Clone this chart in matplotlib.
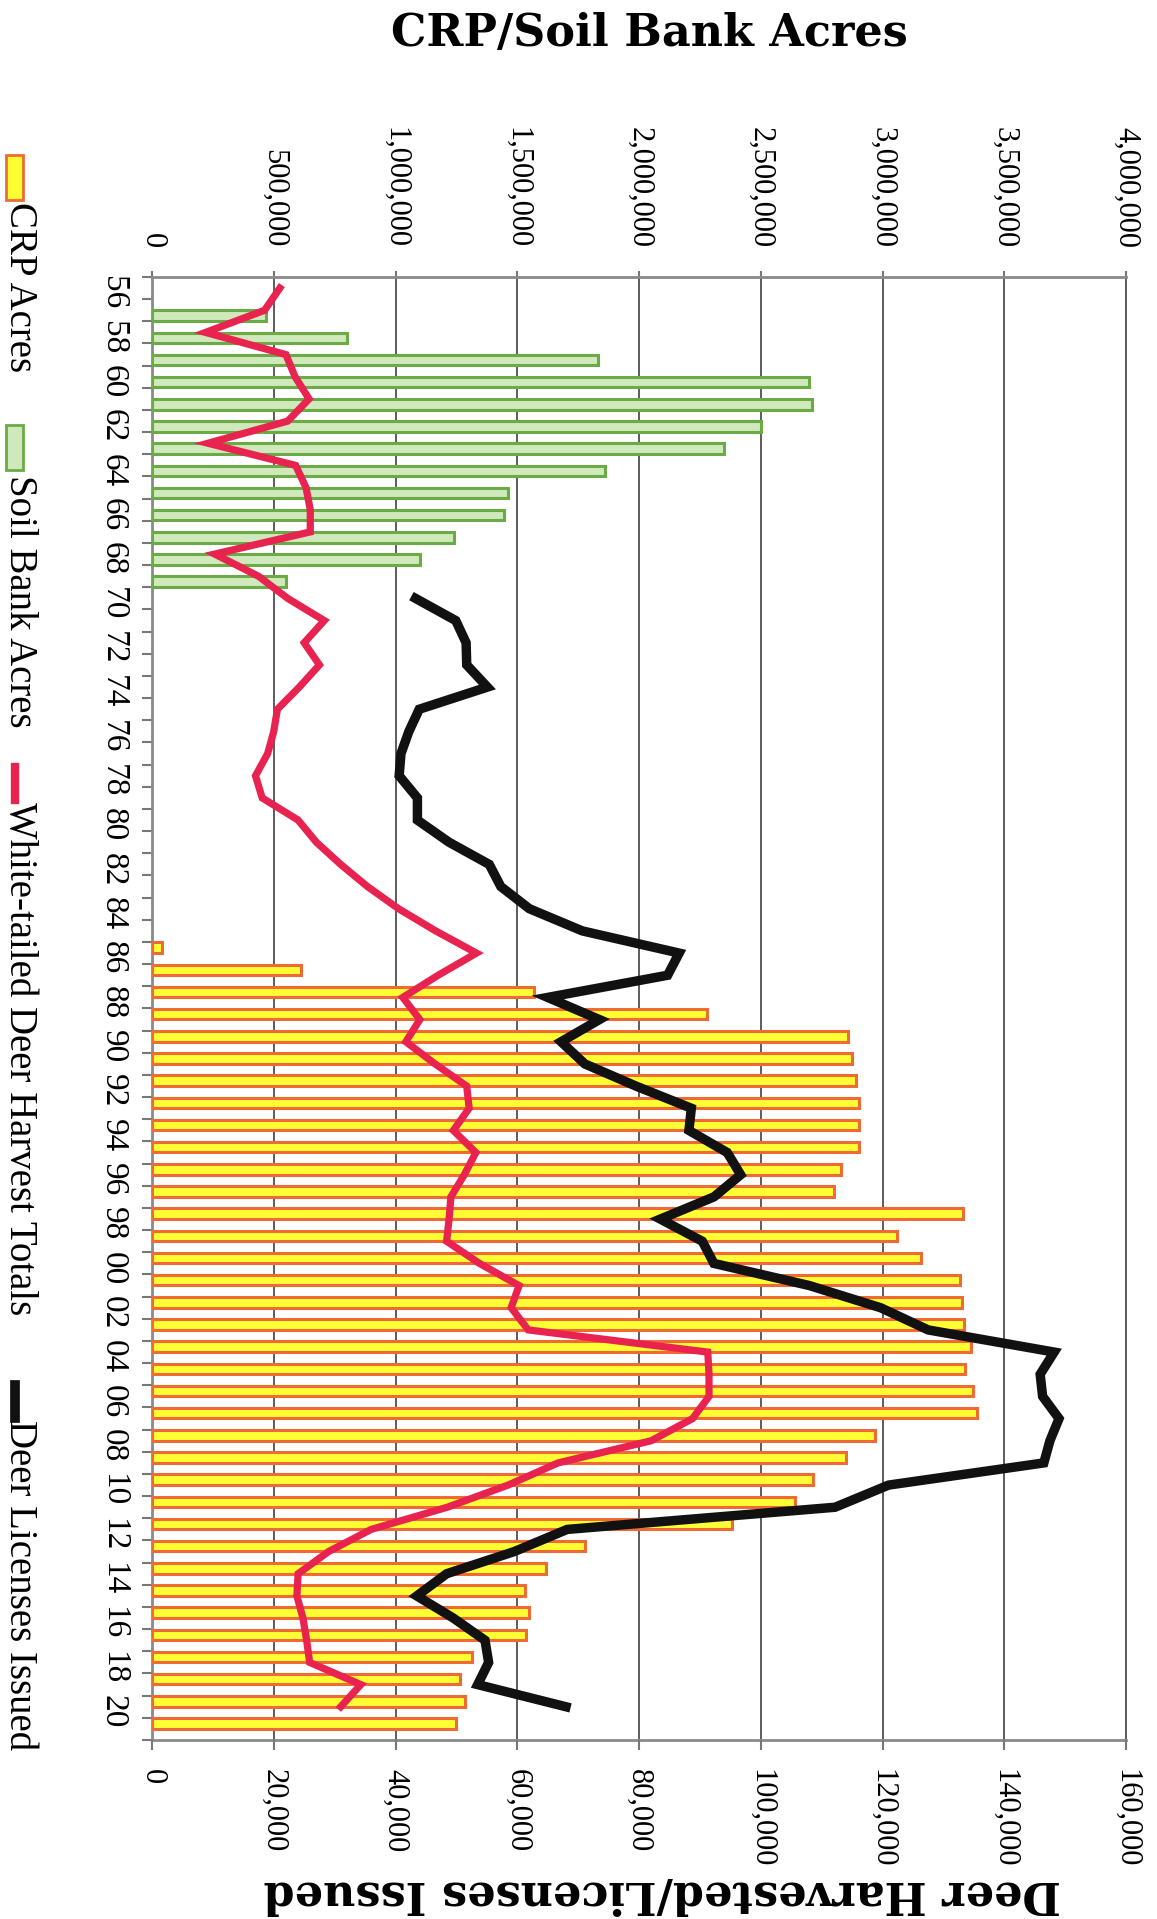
import numpy as np
import matplotlib.pyplot as plt
from matplotlib.patches import Rectangle
from matplotlib.lines import Line2D

# categories (1956-2021), label every other year
years = list(range(1956, 2022))
year_labels = [f"{y % 100:02d}" for y in years[::2]]

# Soil Bank acres
soil_years = list(range(1957, 1970))
soil_acres = [470000, 800000, 1830000, 2700000, 2710000, 2500000, 2350000,
              1860000, 1460000, 1445000, 1240000, 1100000, 550000]

# CRP acres
crp_years = list(range(1986, 2022))
crp_acres = [40000, 610000, 1570000, 2280000, 2860000, 2875000, 2890000, 2905000,
             2905000, 2905000, 2830000, 2800000, 3330000, 3060000, 3160000, 3320000,
             3325000, 3335000, 3365000, 3340000, 3370000, 3390000, 2970000, 2850000,
             2715000, 2640000, 2380000, 1780000, 1620000, 1530000, 1550000, 1535000,
             1315000, 1265000, 1285000, 1250000]

# White-tailed deer harvest totals
harvest_years = list(range(1956, 2021))
harvest = [21000, 18500, 8800, 22000, 23500, 25800, 22300, 9200, 23600, 25300,
           26000, 26000, 10300, 17500, 22300, 28300, 25000, 27500, 24200, 20600,
           20000, 19000, 17000, 18100, 24000, 27000, 31000, 35400, 40500, 46600,
           53300, 47000, 41200, 44000, 41700, 46500, 51700, 52100, 49500, 53200,
           51300, 49100, 48800, 48400, 53800, 60300, 59000, 61800, 91300, 91500,
           91500, 88800, 82000, 66700, 58500, 48500, 36000, 29000, 24000, 23800,
           24800, 25400, 25900, 34300, 31000]

# Deer licenses issued
license_years = list(range(1970, 2021))
licenses = [43300, 49900, 51600, 51700, 55100, 43900, 42200, 40900, 40600, 43600,
            43600, 48800, 55400, 57300, 62000, 70700, 86600, 84700, 65000, 73500,
            67200, 71100, 79500, 88600, 88200, 94500, 96700, 92300, 83500, 90400,
            92300, 108000, 119700, 127500, 148200, 145900, 146300, 149000, 147500, 146500,
            121000, 112200, 68200, 59500, 48400, 43500, 49500, 54700, 55300, 53500,
            68000]

acre_ticks = np.arange(0, 4000001, 500000)
deer_ticks = np.arange(0, 160001, 20000)

YELLOW, ORANGE = '#ffff33', '#f06a35'
GREEN_F, GREEN_E = '#cfe8bc', '#6aab45'
RED, BLACK = '#e8234f', '#111111'
GRID = '#5c5c5c'
serif = 'Liberation Serif'

W, H = 1157, 1919
fig = plt.figure(figsize=(W / 100, H / 100), dpi=100)
ax = fig.add_axes([152 / W, 1 - 1740 / H, (1126 - 152) / W, (1740 - 277) / H])
ax2 = ax.twiny()

# bars: CRP in upper half of each year band, Soil Bank in lower half
ax.barh(np.array(crp_years) - 1956 - 0.245, crp_acres, height=0.47,
        color=YELLOW, edgecolor=ORANGE, linewidth=2.2, zorder=3)
ax.barh(np.array(soil_years) - 1956 + 0.245, soil_acres, height=0.47,
        color=GREEN_F, edgecolor=GREEN_E, linewidth=2.2, zorder=3)

ax.set_ylim(len(years) - 0.5, -0.5)
ax.set_xlim(0, 4000000)
ax.xaxis.tick_top()
ax.set_xticks(acre_ticks)
ax.set_xticklabels([f"{v:,}" for v in acre_ticks], rotation=-90,
                   fontsize=22, family=serif)
ax.tick_params(axis='x', length=4, width=1.5, color='#777777', pad=17)
ax.grid(axis='x', color=GRID, linewidth=1.4)
ax.set_axisbelow(True)

ax.set_yticks(np.arange(0, len(years), 2))
ax.set_yticklabels(year_labels, rotation=-90, fontsize=24, family=serif)
ax.set_yticks(np.arange(-0.5, len(years), 1), minor=True)
ax.tick_params(axis='y', which='major', length=0, pad=17)
ax.tick_params(axis='y', which='minor', length=7, width=1.5, color='#777777')
for s in ax.spines.values():
    s.set_color('#8a8a8a')
    s.set_linewidth(2)
ax.spines['right'].set_color(GRID)
ax.spines['right'].set_linewidth(1.4)

# lines on deer scale (deer count along x, year band along y)
ax2.plot(harvest, np.array(harvest_years) - 1956, color=RED, lw=5.2,
         solid_joinstyle='miter', zorder=4)
ax2.plot(licenses, np.array(license_years) - 1956, color=BLACK, lw=6.8,
         solid_joinstyle='miter', zorder=5)
ax2.set_xlim(0, 160000)
ax2.set_ylim(len(years) - 0.5, -0.5)
ax2.xaxis.tick_bottom()
ax2.set_xticks(deer_ticks)
ax2.set_xticklabels([f"{v:,}" for v in deer_ticks], rotation=-90,
                    fontsize=22, family=serif)
ax2.tick_params(axis='x', length=7, width=1.5, color='#777777', pad=14)
for s in ax2.spines.values():
    s.set_visible(False)

fig.text(649 / W, 1 - 33 / H, 'CRP/Soil Bank Acres', ha='center', va='center',
         fontsize=32, fontweight='bold', family='DejaVu Serif')
fig.text(662 / W, 1 - 1893 / H, 'Deer Harvested/Licenses Issued', rotation=180,
         ha='center', va='center', fontsize=32, fontweight='bold',
         family='DejaVu Serif')

# legend, rotated to run down the left edge
def fy(p):
    return 1 - p / H

fig.add_artist(Rectangle((6 / W, fy(200)), 17 / W, 45 / H, transform=fig.transFigure,
                         facecolor=YELLOW, edgecolor=ORANGE, lw=2))
fig.add_artist(Rectangle((6 / W, fy(470)), 17 / W, 45 / H, transform=fig.transFigure,
                         facecolor=GREEN_F, edgecolor=GREEN_E, lw=2))
fig.add_artist(Line2D([15 / W, 15 / W], [fy(767), fy(800)], transform=fig.transFigure,
                      color=RED, lw=6))
fig.add_artist(Line2D([15 / W, 15 / W], [fy(1385), fy(1418)], transform=fig.transFigure,
                      color=BLACK, lw=7))
for label, y0 in [('CRP Acres', 202), ('Soil Bank Acres', 475),
                  ('White-tailed Deer Harvest Totals', 802), ('Deer Licenses Issued', 1420)]:
    fig.text(19 / W, fy(y0), label, rotation=-90, ha='center', va='top',
             fontsize=28, family=serif)

fig.savefig('out.png', dpi=100)
